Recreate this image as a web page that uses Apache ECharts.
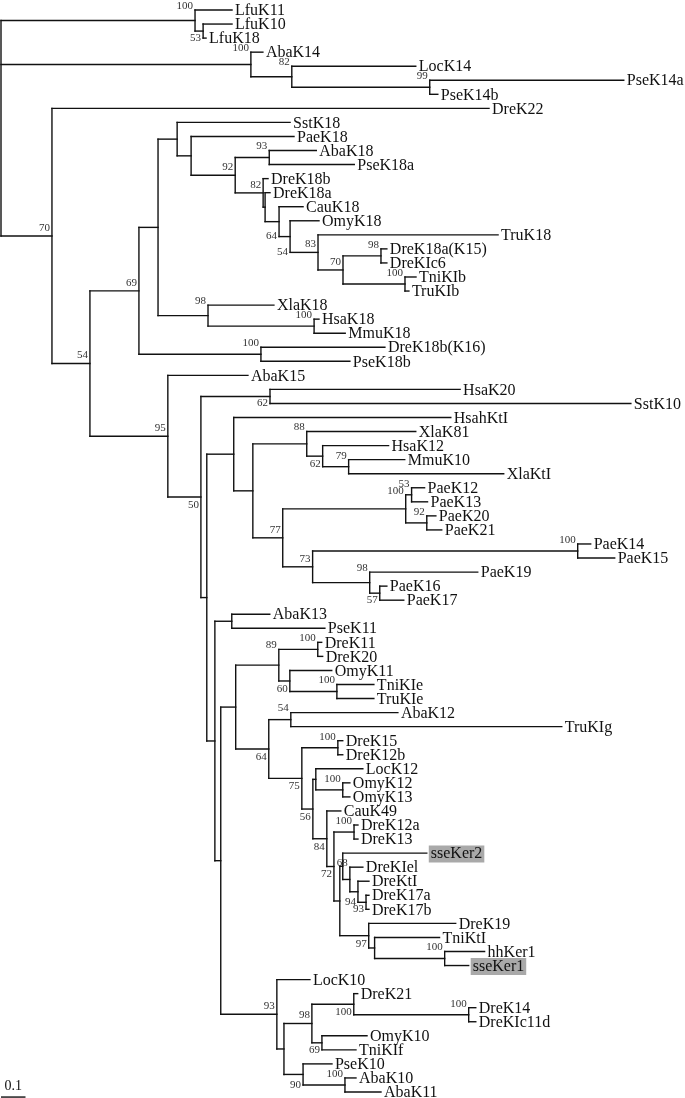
<!DOCTYPE html>
<html>
<head>
<meta charset="utf-8">
<script src="https://cdn.jsdelivr.net/npm/echarts@6.0.0/dist/echarts.min.js"></script>
<style>html,body{margin:0;padding:0;background:#fff}#chart{width:685px;height:1098px}</style>
</head>
<body>
<div id="chart"></div>
<script>
// Tree data: [node, parent, branch length (substitutions/site)], listed top to bottom
const cladeK14 = [
  ['nLfu','root',0.792],['LfuK11','nLfu',0.151],['nLfu2','nLfu',0.033],['LfuK10','nLfu2',0.118],['LfuK18','nLfu2',0.012],
  ['nK14','root',1.020],['AbaK14','nK14',0.049],['nLoc14','nK14',0.167],['LocK14','nLoc14',0.506],
  ['nPse14','nLoc14',0.563],['PseK14a','nPse14',0.792],['PseK14b','nPse14',0.033]
];
const cladeK18 = [
  ['n70','root',0.208],['DreK22','n70',1.784],['n54','n70',0.155],['n69','n54',0.200],['n158','n69',0.078],
  ['n177','n158',0.078],['SstK18','n177',0.461],['n191','n177',0.057],['PaeK18','n191',0.420],['n92','n191',0.180],
  ['n93','n92',0.139],['AbaK18','n93',0.192],['PseK18a','n93',0.347],['nA','n92',0.114],['DreK18b','nA',0.020],
  ['nX','nA',0.008],['DreK18a','nX',0.020],['n64','nX',0.057],['CauK18','n64',0.098],['n54b','n64',0.045],
  ['OmyK18','n54b',0.118],['n83','n54b',0.114],['TruK18','n83',0.735],['n70b','n83',0.102],['n98','n70b',0.155],
  ['DreK18a(K15)','n98',0.024],['DreKIc6','n98',0.024],['n100b','n70b',0.253],['TniKIb','n100b',0.045],['TruKIb','n100b',0.016],
  ['n98x','n158',0.204],['XlaK18','n98x',0.269],['n100h','n98x',0.433],['HsaK18','n100h',0.020],['MmuK18','n100h',0.127],
  ['n260','n69',0.498],['DreK18b(K16)','n260',0.506],['PseK18b','n260',0.363]
];
const cladeK20 = [
  ['n95','n54',0.318],['AbaK15','n95',0.327],['n50','n95',0.135],['n62','n50',0.282],['HsaK20','n62',0.776],['SstK10','n62',1.473],
  ['nBig','n50',0.024],['n234','nBig',0.110],['HsahKtI','n234',0.886],['n253','n234',0.078],['n88','n253',0.220],
  ['XlaK81','n88',0.445],['n62b','n88',0.065],['HsaK12','n62b',0.269],['n79','n62b',0.106],['MmuK10','n79',0.229],['XlaKtI','n79',0.633],
  ['n77','n253',0.122],['n100p','n77',0.502],['n53','n100p',0.024],['PaeK12','n53',0.053],['PaeK13','n53',0.065],
  ['n92b','n100p',0.086],['PaeK20','n92b',0.037],['PaeK21','n92b',0.061],['n73','n77',0.122],['n100p14','n73',1.082],
  ['PaeK14','n100p14',0.053],['PaeK15','n100p14',0.151],['n98p','n73',0.233],['PaeK19','n98p',0.441],['n57','n98p',0.041],
  ['PaeK16','n57',0.029],['PaeK17','n57',0.098]
];
const cladeK12 = [
  ['nLow','nBig',0.033],['n232','nLow',0.069],['AbaK13','n232',0.155],['PseK11','n232',0.380],['n221','nLow',0.024],
  ['n236','n221',0.061],['n89','n236',0.176],['n100d','n89',0.159],['DreK11','n100d',0.016],['DreK20','n100d',0.020],
  ['n60','n89',0.045],['OmyK11','n60',0.171],['n100t','n60',0.192],['TniKIe','n100t',0.151],['TruKIe','n100t',0.151],
  ['n64c','n236',0.135],['n54a','n64c',0.090],['AbaK12','n54a',0.437],['TruKIg','n54a',1.106],['n75','n64c',0.135],
  ['n100d15','n75',0.147],['DreK15','n100d15',0.020],['DreK12b','n100d15',0.020],['n56','n75',0.045],['nLoc12','n56',0.012],
  ['LocK12','nLoc12',0.192],['n100o','nLoc12',0.110],['OmyK12','n100o',0.029],['OmyK13','n100o',0.029],['n84','n56',0.057],
  ['CauK49','n84',0.057],['n72','n84',0.029],['n100d12','n72',0.082],['DreK12a','n100d12',0.016],['DreK13','n100d12',0.016],
  ['nY','n72',0.024],['n68','nY',0.012],['sseKer2','n68',0.343],['nT','n68',0.029],['DreKIel','nT',0.053],['n94','nT',0.033],
  ['DreKtI','n94',0.045],['n93d','n94',0.033],['DreK17a','n93d',0.012],['DreK17b','n93d',0.012],['n97','nY',0.118],
  ['DreK19','n97',0.355],['nTni','n97',0.024],['TniKtI','nTni',0.265],['n100hh','nTni',0.286],['hhKer1','n100hh',0.163],['sseKer1','n100hh',0.098]
];
const cladeK10 = [
  ['n93l','n221',0.229],['LocK10','n93l',0.135],['n284','n93l',0.029],['n98l','n284',0.114],['n100r','n98l',0.171],
  ['DreK21','n100r',0.016],['n100k','n100r',0.469],['DreK14','n100k',0.029],['DreKIc11d','n100k',0.029],['n69t','n98l',0.041],
  ['OmyK10','n69t',0.184],['TniKIf','n69t',0.139],['n90','n284',0.078],['PseK10','n90',0.118],['n100a','n90',0.171],
  ['AbaK10','n100a',0.045],['AbaK11','n100a',0.147]
];
// Bootstrap support values: [node, value]
const supports = [
  ['nLfu',100],['nLfu2',53],['nK14',100],['nLoc14',82],['nPse14',99],['n70',70],['n54',54],['n69',69],['n93',93],['n92',92],
  ['nA',82],['n64',64],['n54b',54],['n83',83],['n70b',70],['n98',98],['n100b',100],['n98x',98],['n100h',100],['n260',100],
  ['n95',95],['n50',50],['n62',62],['n88',88],['n62b',62],['n79',79],['n53',53],['n100p',100],['n92b',92],['n77',77],['n73',73],
  ['n100p14',100],['n98p',98],['n57',57],['n100d',100],['n89',89],['n60',60],['n100t',100],['n54a',54],['n64c',64],['n100d15',100],
  ['n75',75],['n100o',100],['n56',56],['n100d12',100],['n84',84],['nT',68],['n72',72],['n94',94],['n93d',93],['n97',97],
  ['n100hh',100],['n93l',93],['n98l',98],['n100r',100],['n100k',100],['n69t',69],['n100a',100],['n90',90]
];
const highlighted = ['sseKer2','sseKer1'];
const scaleBar = 0.1;

// ---- label placement (style) ----
const supportPlacement = {
  nLfu2:'bot', n70:'above', n54:'above', n69:'above', n92:'above', nA:'above', n64:'bot', n54b:'bot', n83:'above', n70b:'above',
  n95:'above', n50:'below', n62:'bot', n62b:'below', n77:'above', n73:'above', n57:'bot', n60:'below', n64c:'below', n75:'below',
  n56:'below', n84:'below', n72:'below', n94:'bot', n93d:'bot', n97:'below', n93l:'above', n98l:'above', n100r:'below',
  n69t:'bot', n90:'bot'
};

// ---- layout from tree data ----
const all = [].concat(cladeK14, cladeK18, cladeK20, cladeK12, cladeK10);
const children = {}, blen = {}, parentOf = {};
all.forEach(([id, p, l]) => { (children[p] = children[p] || []).push(id); blen[id] = l; parentOf[id] = p; });
const X = {}, Y = {}; let leafIdx = 0; const leaves = [];
function walk(id, x) {
  X[id] = x;
  const ch = children[id];
  if (!ch) { Y[id] = leafIdx++; leaves.push(id); return; }
  ch.forEach(c => walk(c, x + blen[c]));
  Y[id] = (Y[ch[0]] + Y[ch[ch.length - 1]]) / 2;
}
walk('root', 0);

const segments = [];
Object.keys(X).forEach(id => {
  if (parentOf[id]) segments.push([X[parentOf[id]], Y[id], X[id], Y[id]]);
  const ch = children[id];
  if (ch) segments.push([X[id], Y[ch[0]], X[id], Y[ch[ch.length - 1]]]);
});
const leafData = leaves.map(n => [X[n], Y[n]]);
const supData = supports.map(([n, v]) => {
  const ch = children[n]; const mode = supportPlacement[n] || 'top';
  let y = Y[n];
  if (mode === 'top') y = Y[ch[0]];
  if (mode === 'bot') y = Y[ch[ch.length - 1]];
  return [X[n], y];
});
const supOffset = { top: -4, bot: 0, above: -8, below: 8 };

const SERIF = '"Liberation Serif", "DejaVu Serif", serif';
const chart = echarts.init(document.getElementById('chart'));
chart.setOption({
  animation: false,
  grid: { left: 1, right: 0, top: 10, bottom: 6 },
  xAxis: { type: 'value', min: 0, max: 2.792, show: false },
  yAxis: { type: 'value', min: 0, max: 77, inverse: true, show: false },
  series: [
    {
      type: 'custom', data: segments, encode: { x: [0, 2], y: [1, 3] },
      renderItem: (params, api) => {
        const a = api.coord([api.value(0), api.value(1)]);
        const b = api.coord([api.value(2), api.value(3)]);
        return { type: 'line', shape: { x1: a[0], y1: a[1], x2: b[0], y2: b[1] },
          style: { stroke: '#111', lineWidth: 1.4, lineCap: 'square' } };
      }
    },
    {
      type: 'custom', data: leafData, encode: { x: 0, y: 1 },
      renderItem: (params, api) => {
        const name = leaves[params.dataIndex];
        const p = api.coord([api.value(0), api.value(1)]);
        const hl = highlighted.indexOf(name) >= 0;
        return { type: 'text', x: p[0] + (hl ? 2 : 3), y: p[1] + 1,
          style: { text: name, font: '16px ' + SERIF, fill: '#111', align: 'left', verticalAlign: 'middle',
            backgroundColor: hl ? '#a9a9a9' : null, padding: hl ? [1, 2, 0, 2] : 0 } };
      }
    },
    {
      type: 'custom', data: supData, encode: { x: 0, y: 1 },
      renderItem: (params, api) => {
        const [n, v] = supports[params.dataIndex];
        const mode = supportPlacement[n] || 'top';
        const p = api.coord([api.value(0), api.value(1)]);
        return { type: 'text', x: p[0] - 2, y: p[1] + supOffset[mode],
          style: { text: String(v), font: '11px ' + SERIF, fill: '#333', align: 'right', verticalAlign: 'middle' } };
      }
    },
    {
      type: 'custom', data: [[0, 77.36, scaleBar, 77.36]], encode: { x: [0, 2], y: [1, 3] },
      renderItem: (params, api) => {
        const a = api.coord([api.value(0), api.value(1)]);
        const b = api.coord([api.value(2), api.value(3)]);
        return { type: 'group', children: [
          { type: 'line', shape: { x1: a[0], y1: a[1], x2: b[0], y2: b[1] }, style: { stroke: '#111', lineWidth: 1.4 } },
          { type: 'text', x: (a[0] + b[0]) / 2, y: a[1] - 4,
            style: { text: String(scaleBar), font: '14px ' + SERIF, fill: '#111', align: 'center', verticalAlign: 'bottom' } }
        ] };
      }
    }
  ]
});
</script>
</body>
</html>
